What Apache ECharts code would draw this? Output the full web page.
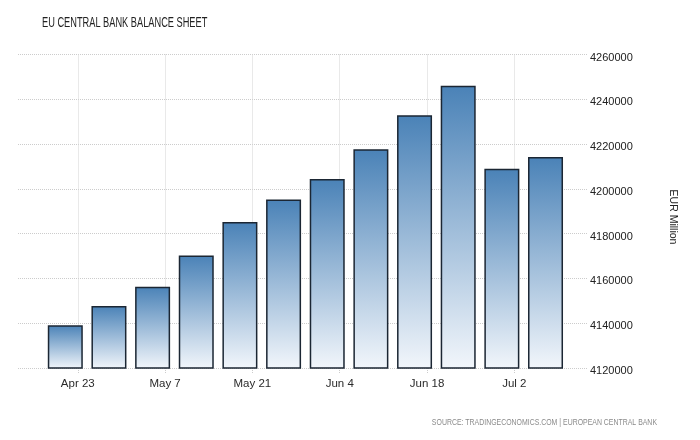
<!DOCTYPE html>
<html>
<head>
<meta charset="utf-8">
<script src="https://cdn.jsdelivr.net/npm/echarts@6/dist/echarts.min.js"></script>
<style>html,body{margin:0;padding:0;background:#fff}#c{width:700px;height:440px}</style>
</head>
<body>
<div id="c"></div>
<script>
var dates = ['2017-04-21','2017-04-28','2017-05-05','2017-05-12','2017-05-19','2017-05-26','2017-06-02','2017-06-09','2017-06-16','2017-06-23','2017-06-30','2017-07-07'];
var values = [4139100, 4147700, 4156300, 4170200, 4185200, 4195200, 4204400, 4217700, 4232900, 4246100, 4209000, 4214200];
var tickDates = ['2017-04-23','2017-05-07','2017-05-21','2017-06-04','2017-06-18','2017-07-02'];
var xStartDate = '2017-04-13', xStartHour = 10;
var xEndDate = '2017-07-12', xEndHour = 5;
var yMin = 4120000, yMax = 4260000, yStep = 20000;
var monthNames = ['Jan','Feb','Mar','Apr','May','Jun','Jul','Aug','Sep','Oct','Nov','Dec'];
var titleText = 'EU CENTRAL BANK BALANCE SHEET';
var unitText = 'EUR Million';
var sourceText = 'SOURCE: TRADINGECONOMICS.COM | EUROPEAN CENTRAL BANK';

function dayNum(s) {
  var p = s.split('-');
  return (Date.UTC(+p[0], +p[1] - 1, +p[2]) - Date.UTC(2017, 0, 1)) / 86400000;
}
function dayLabel(n) {
  var d = new Date(Date.UTC(2017, 0, 1) + Math.round(n) * 86400000);
  return monthNames[d.getUTCMonth()] + ' ' + d.getUTCDate();
}

var chart = echarts.init(document.getElementById('c'), null, {renderer: 'canvas'});
var seriesData = dates.map(function (d, i) { return [dayNum(d), values[i]]; });
var tickNums = tickDates.map(dayNum);
var FONT = '"Liberation Sans", Arial, sans-serif';

chart.setOption({
  animation: false,
  backgroundColor: '#ffffff',
  grid: {left: 18, right: 122, top: 54.5, bottom: 72, containLabel: false},
  xAxis: {
    type: 'value',
    min: dayNum(xStartDate) + xStartHour / 24,
    max: dayNum(xEndDate) + xEndHour / 24,
    axisLine: {show: false},
    axisTick: {show: true, length: 5, lineStyle: {color: '#cccccc', type: 'dotted'}, customValues: tickNums},
    axisLabel: {
      customValues: tickNums,
      margin: 10,
      fontFamily: FONT, fontSize: 11.5, color: '#2a2a2a',
      formatter: function (v) { return dayLabel(v); }
    },
    splitLine: {show: true, lineStyle: {color: '#d4d4d4', type: 'dotted', width: 1}}
  },
  yAxis: {
    type: 'value',
    position: 'right',
    min: yMin, max: yMax, interval: yStep,
    axisLine: {show: false},
    axisTick: {show: true, length: 10, lineStyle: {color: '#cccccc', type: 'dotted'}},
    axisLabel: {margin: 12, fontFamily: FONT, fontSize: 11, color: '#222',
      formatter: function (v) { return '{v|' + String(v) + '}'; },
      rich: {v: {fontFamily: FONT, fontSize: 11, color: '#222', padding: [6, 0, 0, 0]}}},
    splitLine: {show: true, lineStyle: {color: '#cccccc', type: 'dotted', width: 1}}
  },
  graphic: [
    {type: 'text', x: 42, y: 23.5, scaleX: 0.66,
     style: {text: titleText, font: '14px ' + FONT, fill: '#222', textAlign: 'left', textVerticalAlign: 'middle'}},
    {type: 'text', x: 673, y: 217, rotation: -Math.PI / 2,
     style: {text: unitText, font: '10.5px ' + FONT, fill: '#222', textAlign: 'center', textVerticalAlign: 'middle'}},
    {type: 'text', x: 657, y: 423, scaleX: 0.77,
     style: {text: sourceText, font: '9px ' + FONT, fill: '#8a8a8a', textAlign: 'right', textVerticalAlign: 'middle'}}
  ],
  series: [{
    type: 'bar',
    data: seriesData,
    barWidth: 35,
    itemStyle: {
      borderColor: '#1b2633',
      borderWidth: 1.5,
      color: new echarts.graphic.LinearGradient(0, 0, 0, 1, [
        {offset: 0, color: '#4a82b7'},
        {offset: 1, color: '#f2f6fb'}
      ])
    }
  }]
});
</script>
</body>
</html>
